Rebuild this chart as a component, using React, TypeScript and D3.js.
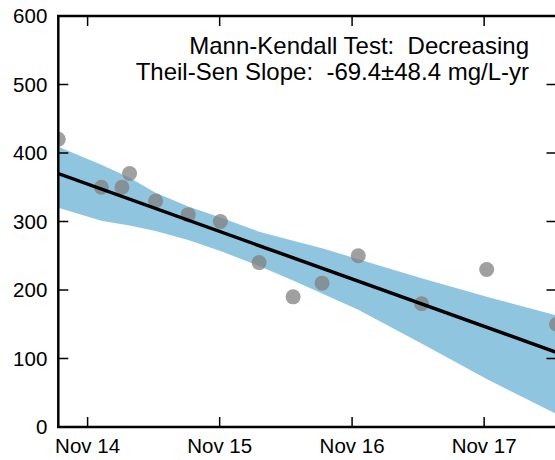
import React, { useEffect, useRef } from 'react';
import * as d3 from 'd3';

// sample dates and concentrations (mg/L)
const sampleDates = [
  '2014-08-12', '2014-12-09', '2015-02-04', '2015-02-25', '2015-05-08', '2015-08-06', '2015-11-03',
  '2016-02-18', '2016-05-22', '2016-08-10', '2016-11-18', '2017-05-12', '2017-11-08', '2018-05-20',
];
const concentrations = [420, 350, 350, 370, 330, 310, 300, 240, 190, 210, 250, 180, 230, 150];

// confidence band around the Theil-Sen line, at each sample date
const bandUpper = [409, 383, 369, 364, 342, 322, 306, 285, 272, 261, 245, 217, 190, 163];
const bandLower = [320, 301, 296, 294, 286, 273, 257, 235, 214, 195, 171, 122, 70, 19];

// trend line values at the first and last sample
const trendValues = [370, 109];

const yTicks = [0, 100, 200, 300, 400, 500, 600];
const xTickDates = ['2014-11-01', '2015-11-01', '2016-11-01', '2017-11-01'];

const annotation = ['Mann-Kendall Test:  Decreasing', 'Theil-Sen Slope:  -69.4\u00b148.4 mg/L-yr'];

const App: React.FC = () => {
  const ref = useRef<SVGSVGElement>(null);

  useEffect(() => {
    if (!ref.current) return;
    const svg = d3.select(ref.current);
    svg.selectAll('*').remove();

    const parse = d3.timeParse('%Y-%m-%d');
    const dates = sampleDates.map(d => parse(d)!);
    const left = 58.3, right = 556.5, top = 16, bottom = 427;

    const x = d3.scaleTime().domain([dates[0], dates[dates.length - 1]]).range([left, right]);
    const y = d3.scaleLinear().domain([0, 600]).range([bottom, top]);
    const font = 'Liberation Sans, Arial, Helvetica, sans-serif';

    svg.append('defs').append('clipPath').attr('id', 'plot-clip')
      .append('rect')
      .attr('x', left).attr('y', top)
      .attr('width', right - left).attr('height', bottom - top);

    const plot = svg.append('g').attr('clip-path', 'url(#plot-clip)');

    const area = d3.area<number>()
      .x(i => x(dates[i]))
      .y0(i => y(bandLower[i]))
      .y1(i => y(bandUpper[i]));
    plot.append('path')
      .attr('d', area(d3.range(dates.length)))
      .attr('fill', '#8fc5de');

    plot.selectAll('circle.pt')
      .data(concentrations)
      .join('circle')
      .attr('class', 'pt')
      .attr('cx', (_, i) => x(dates[i]))
      .attr('cy', d => y(d))
      .attr('r', 7.5)
      .attr('fill', 'rgb(128,128,128)')
      .attr('fill-opacity', 0.75);

    const line = d3.line<number>()
      .x((_, i) => x(i === 0 ? dates[0] : dates[dates.length - 1]))
      .y(d => y(d));
    plot.append('path')
      .attr('d', line(trendValues))
      .attr('stroke', '#000')
      .attr('stroke-width', 3.5)
      .attr('fill', 'none');

    // frame
    svg.append('rect')
      .attr('x', left).attr('y', top)
      .attr('width', right - left).attr('height', bottom - top)
      .attr('fill', 'none').attr('stroke', '#000').attr('stroke-width', 2.5);

    const tickLen = 10;
    const ticks = svg.append('g').attr('stroke', '#000').attr('stroke-width', 1.5);
    yTicks.forEach(v => {
      ticks.append('line').attr('x1', left).attr('x2', left + tickLen).attr('y1', y(v)).attr('y2', y(v));
      ticks.append('line').attr('x1', right).attr('x2', right - tickLen).attr('y1', y(v)).attr('y2', y(v));
    });
    const xt = xTickDates.map(d => parse(d)!);
    xt.forEach(d => {
      ticks.append('line').attr('x1', x(d)).attr('x2', x(d)).attr('y1', bottom).attr('y2', bottom - tickLen);
      ticks.append('line').attr('x1', x(d)).attr('x2', x(d)).attr('y1', top).attr('y2', top + tickLen);
    });

    svg.append('g').selectAll('text')
      .data(yTicks)
      .join('text')
      .attr('x', left - 11)
      .attr('y', d => y(d))
      .attr('dy', '0.36em')
      .attr('text-anchor', 'end')
      .attr('font-family', font)
      .attr('font-size', 20.5)
      .text(d => d);

    const fmt = d3.timeFormat('%b %y');
    svg.append('g').selectAll('text')
      .data(xt)
      .join('text')
      .attr('x', d => x(d))
      .attr('y', bottom + 26)
      .attr('text-anchor', 'middle')
      .attr('font-family', font)
      .attr('font-size', 20.5)
      .text(d => fmt(d));

    svg.append('g').selectAll('text')
      .data(annotation)
      .join('text')
      .attr('x', 529)
      .attr('y', (_, i) => 54 + i * 26)
      .attr('text-anchor', 'end')
      .attr('font-family', font)
      .attr('font-size', 24)
      .style('white-space', 'pre')
      .text(d => d);
  }, []);

  return (
    <div style={{ position: 'absolute', left: 0, top: 0, width: 555, height: 460, overflow: 'hidden', background: '#fff' }}>
      <svg ref={ref} width={555} height={460} />
    </div>
  );
};

export default App;
